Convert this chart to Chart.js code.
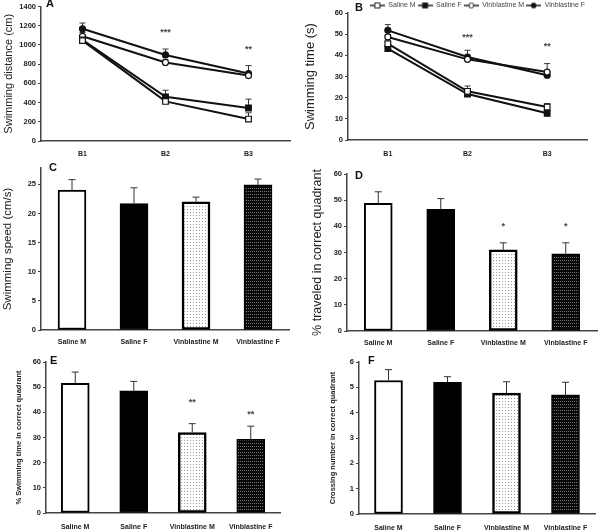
<!DOCTYPE html>
<html><head><meta charset="utf-8">
<script src="https://cdn.jsdelivr.net/npm/chart.js@4"></script>
<style>
html,body{margin:0;padding:0;background:#fff;width:601px;height:530px;overflow:hidden;position:relative}
.p{position:absolute}
canvas{display:block}
</style></head><body>
<div class="p" style="left:0;top:0"><canvas id="cA" width="300" height="160"></canvas></div>
<div class="p" style="left:300px;top:0"><canvas id="cB" width="301" height="160"></canvas></div>
<div class="p" style="left:0;top:160px"><canvas id="cC" width="300" height="195"></canvas></div>
<div class="p" style="left:300px;top:160px"><canvas id="cD" width="301" height="195"></canvas></div>
<div class="p" style="left:0;top:355px"><canvas id="cE" width="300" height="175"></canvas></div>
<div class="p" style="left:300px;top:355px"><canvas id="cF" width="301" height="175"></canvas></div>
<script>
// ---------- DATA ----------
const trialLabels = ['B1', 'B2', 'B3'];
const groupLabels = ['Saline M', 'Saline F', 'Vinblastine M', 'Vinblastine F'];

// A: swimming distance (cm)
const distSalineM = [1045, 412, 228];
const distSalineF = [1052, 460, 344];
const distVinM = [1090, 817, 681];
const distVinF = [1168, 896, 702];
const distSalineMErr = [25, 25, 65];
const distSalineFErr = [30, 68, 92];
const distVinMErr = [40, 30, 35];
const distVinFErr = [60, 61, 83];
const distSig = ['', '***', '**'];
const distSigAt = [null, 1130, 950];

// B: swimming time (s)
const timeSalineM = [45.5, 23.0, 15.6];
const timeSalineF = [43.2, 21.7, 12.6];
const timeVinM = [48.7, 38.1, 32.1];
const timeVinF = [51.8, 39.2, 30.6];
const timeSalineMErr = [1.0, 2.5, 1.6];
const timeSalineFErr = [1.2, 1.2, 1.0];
const timeVinMErr = [1.0, 1.5, 4.0];
const timeVinFErr = [2.7, 3.2, 1.5];
const timeSig = ['', '***', '**'];
const timeSigAt = [null, 48.4, 44.4];

// C: swimming speed (cm/s)
const speedMean = [24.0, 21.7, 22.0, 24.9];
const speedErr = [1.8, 2.7, 0.8, 1.0];

// D: % traveled in correct quadrant
const travelMean = [48.8, 46.5, 31.0, 29.5];
const travelErr = [4.4, 4.1, 2.7, 4.2];
const travelSig = ['', '', '*', '*'];
const travelSigAt = [null, null, 40, 40];

// E: % swimming time in correct quadrant
const quadTimeMean = [51.5, 48.5, 32.0, 29.3];
const quadTimeErr = [4.5, 3.8, 3.5, 5.2];
const quadTimeSig = ['', '', '**', '**'];
const quadTimeSigAt = [null, null, 43.9, 39.3];

// F: crossing number in correct quadrant
const crossMean = [5.27, 5.20, 4.77, 4.70];
const crossErr = [0.43, 0.22, 0.45, 0.50];

// ---------- STYLE ----------
const SANS = "'Liberation Sans',Arial,sans-serif";
const TICK = {family: SANS, size: 7.5, weight: 'bold'};
const XTICK = {family: SANS, size: 7, weight: 'bold'};
const INK = '#222';
const AXIS = '#444';

function makePattern(w, h, bg, dots, dotColor) {
  const c = document.createElement('canvas'); c.width = w; c.height = h;
  const g = c.getContext('2d'); g.fillStyle = bg; g.fillRect(0, 0, w, h);
  g.fillStyle = dotColor; dots.forEach(d => g.fillRect(d[0], d[1], 1, 1));
  return g.createPattern(c, 'repeat');
}
const dotPat = makePattern(3, 3, '#ffffff', [[1, 1]], '#9a9a9a');
const darkPat = makePattern(2, 3, '#080808', [[0, 1]], '#777777');
const barFills = ['#ffffff', '#000000', dotPat, darkPat];
const barBorderW = [2, 1, 2.5, 1.5];

function legendIcon(square, filled) {
  const c = document.createElement('canvas'); c.width = 15; c.height = 8;
  const g = c.getContext('2d');
  g.strokeStyle = '#222'; g.lineWidth = 1.5;
  g.beginPath(); g.moveTo(0, 4); g.lineTo(15, 4); g.stroke();
  g.fillStyle = filled ? '#111' : '#fff'; g.lineWidth = 1;
  if (square) { g.fillRect(5, 1.5, 5, 5); g.strokeRect(5, 1.5, 5, 5); }
  else { g.beginPath(); g.arc(7.5, 4, 2.5, 0, Math.PI * 2); g.fill(); g.stroke(); }
  return c;
}
const legendIcons = [legendIcon(true, false), legendIcon(true, true), legendIcon(false, false), legendIcon(false, true)];

// ---------- PLUGINS ----------
function drawErr(chart, opts) {
  const ys = chart.scales.y, ctx = chart.ctx;
  chart.data.datasets.forEach((ds, di) => {
    if (!ds.errors) return;
    const meta = chart.getDatasetMeta(di);
    meta.data.forEach((el, i) => {
      const e = ds.errors[i]; if (e == null) return;
      const v = ds.data[i];
      const x = el.x, y0 = ys.getPixelForValue(v), y1 = ys.getPixelForValue(v + e);
      ctx.save(); ctx.strokeStyle = '#333'; ctx.lineWidth = 1;
      ctx.beginPath(); ctx.moveTo(x, y0); ctx.lineTo(x, y1);
      ctx.moveTo(x - opts.cap, y1); ctx.lineTo(x + opts.cap, y1); ctx.stroke(); ctx.restore();
    });
  });
}
const errorBars = {
  id: 'errorBars',
  beforeDatasetsDraw(chart, a, opts) { if (opts.before) drawErr(chart, opts); },
  afterDatasetsDraw(chart, a, opts) { if (!opts.before) drawErr(chart, opts); }
};
const sigMarks = {
  id: 'sigMarks',
  afterDatasetsDraw(chart, a, opts) {
    if (!opts.labels) return;
    const xs = chart.scales.x, ys = chart.scales.y, ctx = chart.ctx;
    ctx.save(); ctx.fillStyle = '#444'; ctx.font = 'bold 9px ' + SANS;
    ctx.textAlign = 'center'; ctx.textBaseline = 'middle';
    opts.labels.forEach((t, i) => {
      if (!t) return;
      ctx.fillText(t, xs.getPixelForValue(i), ys.getPixelForValue(opts.at[i]));
    });
    ctx.restore();
  }
};
const panelLetter = {
  id: 'panelLetter',
  afterDraw(chart, a, opts) {
    if (!opts.text) return;
    const ctx = chart.ctx; ctx.save();
    ctx.fillStyle = '#111'; ctx.font = 'bold 11px ' + SANS;
    ctx.textAlign = 'left'; ctx.textBaseline = 'middle';
    ctx.fillText(opts.text, opts.x, opts.y); ctx.restore();
  }
};
Chart.register(errorBars, sigMarks, panelLetter);

// ---------- SCALES ----------
function yAxis(max, step, title, titleFont, width, titlePad) {
  return {
    type: 'linear', min: 0, max: max,
    afterBuildTicks: s => { s.ticks = s.ticks.filter(t => Math.abs(t.value / step - Math.round(t.value / step)) < 1e-6); },
    ticks: {stepSize: step, font: TICK, color: INK, padding: 2, callback: v => String(v)},
    grid: {display: true, drawOnChartArea: false, drawTicks: true, tickLength: 3, color: AXIS},
    border: {display: true, color: AXIS, width: 1.5},
    title: {display: true, text: title, font: titleFont, color: INK, padding: {top: titlePad, bottom: 0}},
    afterFit: s => { s.width = width; }
  };
}
function xAxis(height, pad) {
  return {
    type: 'category', offset: true,
    grid: {display: false, drawTicks: false},
    border: {display: true, color: AXIS, width: 1.5},
    ticks: {font: XTICK, color: INK, padding: pad, maxRotation: 0, autoSkip: false},
    afterFit: s => { s.height = height; }
  };
}

function lineDs(label, data, errors, square, filled) {
  return {
    label, data, errors,
    borderColor: '#111', borderWidth: 2, tension: 0, fill: false,
    pointStyle: square ? 'rect' : 'circle', pointRadius: square ? 4 : 3,
    pointBackgroundColor: filled ? '#111' : '#fff', pointBorderColor: '#111', pointBorderWidth: 1.2
  };
}

function lineChart(id, sets, yOpts, padding, letter, sig, showLegend) {
  return new Chart(document.getElementById(id), {
    type: 'line',
    data: {labels: trialLabels, datasets: sets},
    options: {
      responsive: false, animation: false, devicePixelRatio: 1,
      layout: {padding},
      scales: {x: xAxis(yOpts.xh, yOpts.xpad), y: yAxis(yOpts.max, yOpts.step, yOpts.title, yOpts.tfont, yOpts.w, yOpts.tpad)},
      plugins: {
        legend: showLegend ? {
          display: true, position: 'top', align: 'end', maxHeight: 13,
          labels: {
            usePointStyle: true, pointStyleWidth: 15, padding: 2,
            font: {family: SANS, size: 7}, color: '#444',
            generateLabels: ch => ch.data.datasets.map((d, i) => ({
              text: d.label, pointStyle: legendIcons[i], fillStyle: 'rgba(0,0,0,0)',
              strokeStyle: 'rgba(0,0,0,0)', lineWidth: 0, hidden: false, datasetIndex: i, fontColor: '#444'
            }))
          }
        } : {display: false},
        tooltip: {enabled: false},
        errorBars: {before: true, cap: 3},
        sigMarks: sig,
        panelLetter: letter
      }
    }
  });
}

function barChart(id, data, errors, yOpts, padding, letter, sig) {
  return new Chart(document.getElementById(id), {
    type: 'bar',
    data: {labels: groupLabels, datasets: [{
      data, errors, backgroundColor: barFills, borderColor: '#000', borderWidth: barBorderW,
      barThickness: 28, borderSkipped: false
    }]},
    options: {
      responsive: false, animation: false, devicePixelRatio: 1,
      layout: {padding},
      scales: {x: xAxis(yOpts.xh, yOpts.xpad), y: yAxis(yOpts.max, yOpts.step, yOpts.title, yOpts.tfont, yOpts.w, yOpts.tpad)},
      plugins: {
        legend: {display: false}, tooltip: {enabled: false},
        errorBars: {before: false, cap: 3.5},
        sigMarks: sig || {},
        panelLetter: letter
      }
    }
  });
}

const bigTitle = {family: SANS, size: 11.5};
const smallTitle = {family: SANS, size: 7.5, weight: 'bold'};

lineChart('cA', [
  lineDs('Saline M', distSalineM, distSalineMErr, true, false),
  lineDs('Saline F', distSalineF, distSalineFErr, true, true),
  lineDs('Vinblastine M', distVinM, distVinMErr, false, false),
  lineDs('Vinblastine F', distVinF, distVinFErr, false, true)
], {max: 1400, step: 200, title: 'Swimming distance (cm)', tfont: {family: SANS, size: 11}, w: 41, tpad: 2, xh: 19, xpad: 9},
  {top: 4, right: 10, left: 0, bottom: 0}, {text: 'A', x: 46, y: 4}, {labels: distSig, at: distSigAt}, false);

lineChart('cB', [
  lineDs('Saline M', timeSalineM, timeSalineMErr, true, false),
  lineDs('Saline F', timeSalineF, timeSalineFErr, true, true),
  lineDs('Vinblastine M', timeVinM, timeVinMErr, false, false),
  lineDs('Vinblastine F', timeVinF, timeVinFErr, false, true)
], {max: 60, step: 10, title: 'Swimming time (s)', tfont: {family: SANS, size: 13}, w: 48, tpad: 3, xh: 20, xpad: 10},
  {top: 0, right: 14, left: 0, bottom: 0}, {text: 'B', x: 55, y: 8}, {labels: timeSig, at: timeSigAt}, true);

barChart('cC', speedMean, speedErr,
  {max: 27.8, step: 5, title: 'Swimming speed (cm/s)', tfont: bigTitle, w: 41, tpad: 1, xh: 25, xpad: 8},
  {top: 8, right: 11, left: 0, bottom: 0}, {text: 'C', x: 49, y: 7.5});

barChart('cD', travelMean, travelErr,
  {max: 60, step: 10, title: '% traveled in correct quadrant', tfont: {family: SANS, size: 12.5}, w: 47, tpad: 10, xh: 24, xpad: 8},
  {top: 14, right: 4, left: 0, bottom: 0}, {text: 'D', x: 55, y: 16}, {labels: travelSig, at: travelSigAt});

barChart('cE', quadTimeMean, quadTimeErr,
  {max: 60, step: 10, title: '% Swimming time in correct quadrant', tfont: smallTitle, w: 46, tpad: 14, xh: 17, xpad: 10},
  {top: 7, right: 20, left: 0, bottom: 0}, {text: 'E', x: 50, y: 6}, {labels: quadTimeSig, at: quadTimeSigAt});

barChart('cF', crossMean, crossErr,
  {max: 6, step: 1, title: 'Crossing number in correct quadrant', tfont: smallTitle, w: 59, tpad: 28, xh: 16, xpad: 10},
  {top: 7, right: 6, left: 0, bottom: 0}, {text: 'F', x: 68, y: 6});
</script>
</body></html>
